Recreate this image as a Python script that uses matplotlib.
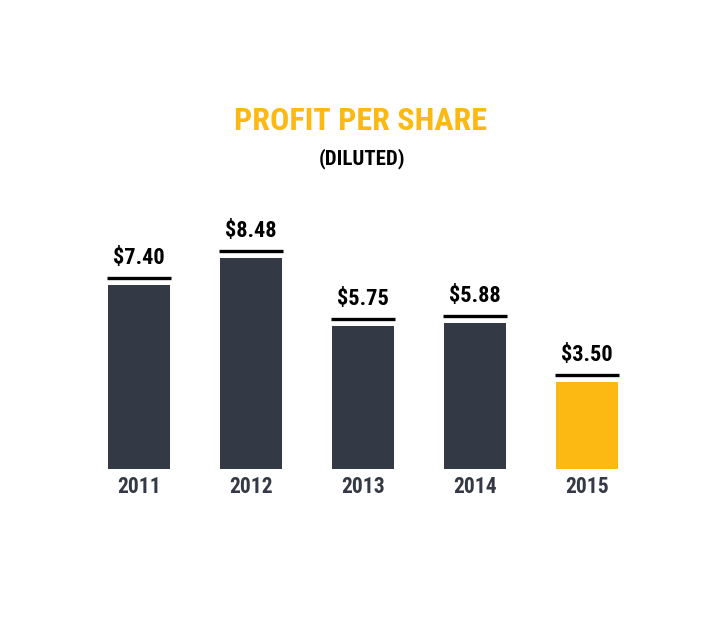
import matplotlib
matplotlib.use("Agg")
import matplotlib.pyplot as plt
from matplotlib import font_manager
import os

years = ["2011", "2012", "2013", "2014", "2015"]
values = [7.40, 8.48, 5.75, 5.88, 3.50]
labels = ["$7.40", "$8.48", "$5.75", "$5.88", "$3.50"]
title = "PROFIT PER SHARE"
subtitle = "(DILUTED)"

DARK = "#333a46"
YELLOW = "#fdb913"
colors = [DARK, DARK, DARK, DARK, YELLOW]

# find a condensed bold face
cands = []
for f in font_manager.fontManager.ttflist:
    b = os.path.basename(f.fname).lower()
    cands.append((b, f.fname))
pick = None
for pref in ["liberationsansnarrow-bold.", "robotocondensed-bold", "dejavusanscondensed-bold."]:
    for b, fn in cands:
        if b.startswith(pref):
            pick = fn
            break
    if pick:
        break
FAM = ["Roboto", "DejaVu Sans"]
def fp(size):
    if pick:
        return font_manager.FontProperties(fname=pick, size=size)
    return font_manager.FontProperties(family=FAM, weight="bold", size=size)

W, H = 714, 628
fig = plt.figure(figsize=(W / 100, H / 100), dpi=100)
fig.patch.set_facecolor("white")

left_px, right_px = 83, 643
base_px, top_px = 469, 220
ax = fig.add_axes([left_px / W, (H - base_px) / H,
                   (right_px - left_px) / W, (base_px - top_px) / H])
ax.set_xlim(-0.5, len(years) - 0.5)
ax.set_ylim(0, 10)
ax.axis("off")
ppu = (base_px - top_px) / 10.0

x = list(range(len(years)))
bw = 62 / 112
ax.bar(x, values, width=bw, color=colors, edgecolor="none")

for xi, v, lab, yr in zip(x, values, labels, years):
    yl = v + 7 / ppu
    ax.plot([xi - bw / 2 - 0.01, xi + bw / 2 + 0.01], [yl, yl], color="black",
            lw=2.4, solid_capstyle="butt", clip_on=False)
    ax.annotate(lab, (xi, v), xytext=(0, 21), textcoords="offset pixels",
                ha="center", va="baseline", fontproperties=fp(16),
                color="black", annotation_clip=False)
    ax.annotate(yr, (xi, 0), xytext=(0, -24), textcoords="offset pixels",
                ha="center", va="baseline", fontproperties=fp(15.5),
                color=DARK, annotation_clip=False)

fig.text(360 / W, 1 - 130 / H, title, ha="center", va="baseline",
         fontproperties=fp(23), color=YELLOW)
fig.text(362 / W, 1 - 164 / H, subtitle, ha="center", va="baseline",
         fontproperties=fp(15), color="black")

fig.savefig("out.png", dpi=100, facecolor="white")
